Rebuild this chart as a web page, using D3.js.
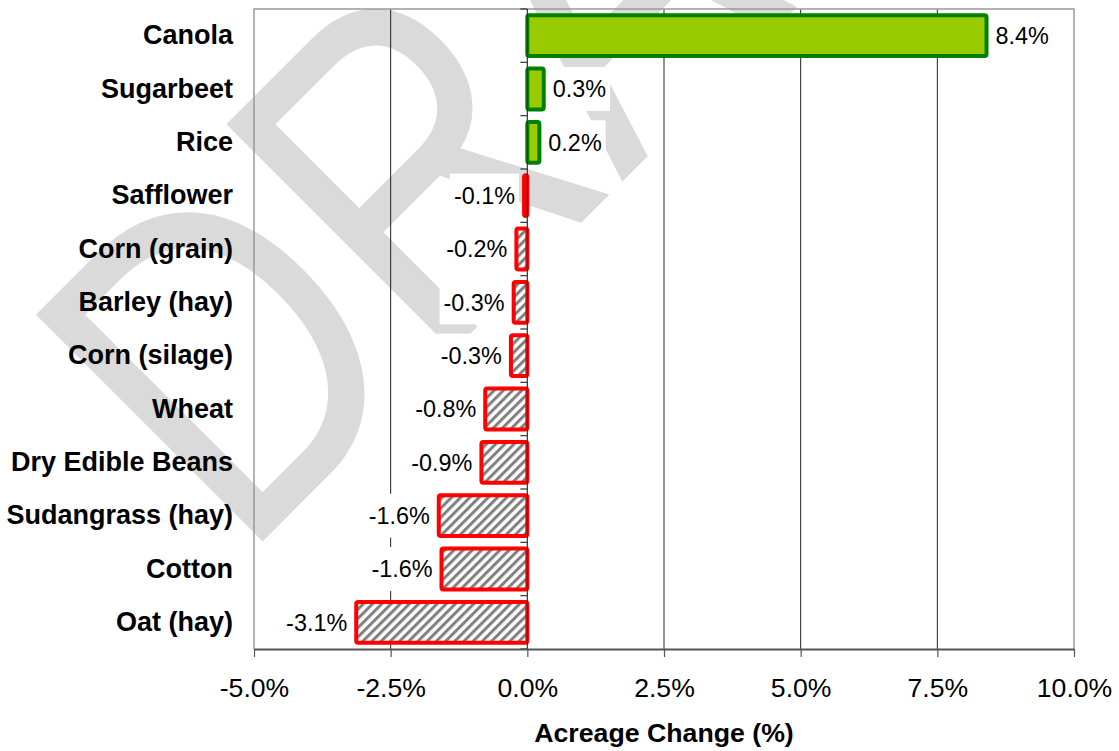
<!DOCTYPE html>
<html>
<head>
<meta charset="utf-8">
<script src="https://cdn.jsdelivr.net/npm/d3@7"></script>
<style>
  body { margin: 0; background: #fff; }
  svg { display: block; font-family: "Liberation Sans", Arial, sans-serif; }
</style>
</head>
<body>
<svg width="1119" height="751"></svg>
<script>
// Chart data
const crops = ['Canola', 'Sugarbeet', 'Rice', 'Safflower', 'Corn (grain)', 'Barley (hay)',
    'Corn (silage)', 'Wheat', 'Dry Edible Beans', 'Sudangrass (hay)', 'Cotton', 'Oat (hay)'];
const changes = [8.4, 0.3, 0.22, -0.06, -0.2, -0.25, -0.3, -0.77, -0.84, -1.62, -1.57, -3.13];
const valueLabels = ['8.4%', '0.3%', '0.2%', '-0.1%', '-0.2%', '-0.3%', '-0.3%', '-0.8%', '-0.9%', '-1.6%', '-1.6%', '-3.1%'];
const xTicks = [-5, -2.5, 0, 2.5, 5, 7.5, 10];
const xTickLabels = ['-5.0%', '-2.5%', '0.0%', '2.5%', '5.0%', '7.5%', '10.0%'];
const gridValues = [-2.5, 2.5, 5, 7.5];

const data = crops.map((c, i) => ({ crop: c, value: changes[i], label: valueLabels[i] }));

// Plot area
const plot = { left: 254, right: 1074, top: 9, bottom: 649 };
const fontFamily = "Liberation Sans, Arial, sans-serif";

const svg = d3.select("svg");

const x = d3.scaleLinear().domain([-5, 10]).range([plot.left, plot.right]);
const y = d3.scaleBand().domain(crops).range([plot.top, plot.bottom])
    .paddingInner(0.235).paddingOuter(0.1175);

// Hatch pattern for negative bars
const defs = svg.append("defs");
const hatch = defs.append("pattern")
    .attr("id", "hatch")
    .attr("patternUnits", "userSpaceOnUse")
    .attr("width", 6.5)
    .attr("height", 6.5)
    .attr("patternTransform", "rotate(45)");
hatch.append("rect").attr("width", 6.5).attr("height", 6.5).attr("fill", "#fff");
hatch.append("rect").attr("width", 3).attr("height", 6.5).attr("fill", "#808080");

svg.append("rect").attr("width", 1119).attr("height", 751).attr("fill", "#fff");

// DRAFT watermark (squeezed like the WordArt one)
svg.append("text")
    .attr("transform", "translate(241,563) rotate(-45) scale(0.8,1)")
    .attr("font-size", 466)
    .attr("fill", "#dadada")
    .text("DRAFT");

// Gridlines
svg.append("g")
  .selectAll("line")
  .data(gridValues)
  .join("line")
    .attr("x1", d => x(d)).attr("x2", d => x(d))
    .attr("y1", plot.top).attr("y2", plot.bottom)
    .attr("stroke", "#222")
    .attr("stroke-width", 1);

// Frame (top, left, right)
svg.append("path")
    .attr("d", `M${plot.left},${plot.bottom}V${plot.top}H${plot.right}V${plot.bottom}`)
    .attr("fill", "none")
    .attr("stroke", "#999")
    .attr("stroke-width", 1.5);

// Bars
svg.append("g")
  .selectAll("rect")
  .data(data)
  .join("rect")
    .attr("x", d => x(Math.min(0, d.value)))
    .attr("y", d => y(d.crop))
    .attr("width", d => Math.abs(x(d.value) - x(0)))
    .attr("height", y.bandwidth())
    .attr("rx", 2)
    .attr("fill", d => d.value >= 0 ? "#99cc00" : "url(#hatch)")
    .attr("stroke", d => d.value >= 0 ? "#008000" : "#ff0000")
    .attr("stroke-width", 4);

// Zero line with ticks at category boundaries
const zero = svg.append("g").attr("stroke", "#333");
zero.append("line")
    .attr("x1", x(0)).attr("x2", x(0))
    .attr("y1", plot.top).attr("y2", plot.bottom)
    .attr("stroke-width", 1.2);
const bounds = crops.map(c => y(c) - y.step() * y.paddingInner() / 2).concat([plot.bottom]);
zero.selectAll(".zt")
  .data(bounds)
  .join("line")
    .attr("class", "zt")
    .attr("x1", x(0) - 7).attr("x2", x(0))
    .attr("y1", d => d).attr("y2", d => d)
    .attr("stroke-width", 1.2);

// Value labels with white boxes
const labels = svg.append("g").attr("font-size", 23.4).attr("font-family", fontFamily);
labels.selectAll("g")
  .data(data)
  .join("g")
    .each(function(d) {
        const g = d3.select(this);
        const cy = y(d.crop) + y.bandwidth() / 2;
        const pos = d.value >= 0;
        const tx = pos ? x(d.value) + 9 : x(d.value) - 9;
        const t = g.append("text")
            .attr("x", tx)
            .attr("y", cy)
            .attr("dy", "0.35em")
            .attr("text-anchor", pos ? "start" : "end")
            .attr("fill", "#000")
            .text(d.label);
        const w = t.node().getComputedTextLength();
        g.insert("rect", "text")
            .attr("x", (pos ? tx : tx - w) - 4)
            .attr("y", cy - 22)
            .attr("width", w + 8)
            .attr("height", 44)
            .attr("fill", "#fff");
    });

// Category axis
const yAxis = svg.append("g")
    .attr("transform", `translate(${plot.left},0)`)
    .call(d3.axisLeft(y).tickSize(0).tickPadding(21));
yAxis.select(".domain").remove();
yAxis.selectAll("text")
    .attr("font-size", 27)
    .attr("font-weight", "bold")
    .attr("font-family", fontFamily)
    .attr("fill", "#000");

// Value axis
const xAxis = svg.append("g")
    .attr("transform", `translate(0,${plot.bottom})`)
    .call(d3.axisBottom(x).tickValues(xTicks).tickFormat((d, i) => xTickLabels[i])
        .tickSize(8).tickSizeOuter(0).tickPadding(21.5));
xAxis.select(".domain").attr("stroke", "#555").attr("stroke-width", 2);
xAxis.selectAll(".tick line").attr("stroke", "#555").attr("stroke-width", 1.2);
xAxis.selectAll("text")
    .attr("font-size", 26.6)
    .attr("font-family", fontFamily)
    .attr("fill", "#000");

// Axis title
svg.append("text")
    .attr("x", (plot.left + plot.right) / 2)
    .attr("y", 742)
    .attr("text-anchor", "middle")
    .attr("font-size", 26.7)
    .attr("font-weight", "bold")
    .attr("font-family", fontFamily)
    .text("Acreage Change (%)");
</script>
</body>
</html>
